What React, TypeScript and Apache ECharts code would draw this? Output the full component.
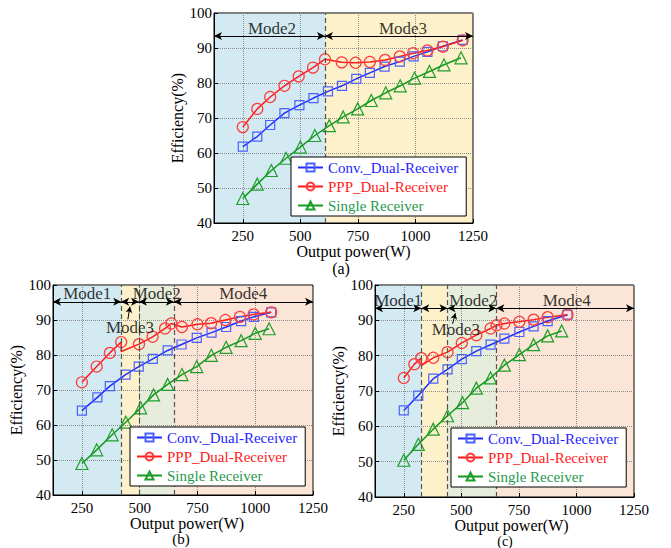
import React, { useEffect, useRef } from 'react';
import * as echarts from 'echarts';

const FONT = '"Liberation Serif", "Times New Roman", serif';

// ---------- shared ----------
const xTickValues = [250, 500, 750, 1000, 1250];
const seriesNames = ['Conv._Dual-Receiver', 'PPP_Dual-Receiver', 'Single Receiver'];
const xName = 'Output power(W)';
const yName = 'Efficiency(%)';
const panelLabels = ['(a)', '(b)', '(c)'];

// ---------- panel (a) ----------
const aConv = [[250, 61.8], [313, 64.7], [369, 68.0], [431, 71.4], [496, 73.7], [557, 75.7], [620, 77.6], [681, 79.2], [743, 81.2], [802, 82.9], [866, 84.7], [932, 86.1], [992, 87.6], [1052, 88.9], [1119, 90.5], [1205, 92.3]];
const aPpp = [[250, 67.4], [313, 72.6], [369, 76.0], [431, 79.2], [493, 81.9], [555, 84.4], [607, 86.8], [680, 85.9], [740, 85.8], [802, 86.0], [868, 86.6], [932, 87.6], [990, 88.5], [1052, 89.3], [1119, 90.4], [1205, 92.2]];
const aPppHidden: number[] = [];
const aSingle = [[250, 47.0], [313, 51.1], [374, 55.0], [438, 58.5], [500, 61.7], [563, 65.0], [626, 67.8], [686, 70.3], [749, 72.6], [808, 75.0], [871, 77.2], [934, 79.2], [996, 81.4], [1061, 83.3], [1124, 85.2], [1198, 87.2]];
const aBounds = [607];
const aModes = ['Mode2', 'Mode3'];
const aModeLabelPos = [[377, 95.7], [946, 95.7]];
const aArrowY = 93.4;

// ---------- panel (b) ----------
const bConv = [[250, 64.1], [317, 67.9], [371, 71.1], [439, 74.4], [496, 76.7], [557, 78.9], [621, 81.3], [681, 83.0], [747, 84.9], [811, 86.4], [874, 88.0], [939, 89.7], [994, 90.9], [1069, 92.2]];
const bPpp = [[250, 72.2], [314, 76.7], [371, 80.6], [420, 83.7], [420, 81.0], [497, 83.1], [556, 85.2], [610, 87.6], [637, 89.0], [683, 88.0], [750, 88.8], [809, 89.1], [871, 90.0], [934, 90.9], [993, 91.6], [1069, 92.2]];
const bPppHidden = [4];
const bSingle = [[250, 49.0], [314, 52.9], [381, 57.2], [440, 60.8], [504, 64.9], [560, 68.6], [621, 71.6], [683, 74.4], [747, 76.7], [810, 79.9], [874, 82.2], [939, 84.1], [1000, 86.2], [1060, 87.5]];
const bBounds = [420, 497, 648];
const bModes = ['Mode1', 'Mode2', 'Mode4'];
const bModeLabelPos = [[273, 97.6], [574, 97.6], [948, 97.6]];
const bArrowY = 95.2;
const bMode3Label = [458, 87.9];
const bPointer = [[449, 90.2], [458, 93.8]];

// ---------- panel (c) ----------
const cConv = [[250, 64.5], [313, 68.7], [378, 73.5], [440, 76.1], [502, 79.0], [565, 81.3], [627, 83.1], [687, 84.8], [752, 86.7], [814, 88.3], [875, 89.8], [961, 91.6]];
const cPpp = [[250, 73.7], [296, 77.6], [326, 79.3], [326, 77.2], [378, 79.4], [440, 81.0], [502, 83.6], [565, 85.8], [627, 87.7], [653, 88.6], [687, 89.1], [752, 89.6], [814, 90.2], [875, 90.9], [961, 91.6]];
const cPppHidden = [3];
const cSingle = [[250, 50.4], [313, 54.9], [378, 59.2], [440, 63.0], [505, 66.7], [565, 70.8], [627, 73.7], [687, 77.3], [752, 80.3], [814, 83.1], [875, 85.6], [936, 87.0]];
const cBounds = [326, 440, 652];
const cModes = ['Mode1', 'Mode2', 'Mode4'];
const cModeLabelPos = [[226, 95.5], [552, 95.5], [958, 95.5]];
const cArrowY = 93.4;
const cMode3Label = [476, 87.5];
const cPointer = [[462, 89.0], [474, 92.0]];

// band colours
const BLUE_BG = '#d3eaf2';
const YELLOW_BG = '#fdf1cb';
const GREEN_BG = '#e6edda';
const PEACH_BG = '#fbe5d6';

const X_MIN = 125;
const X_MAX = 1250;

const lineColors = ['#1f2dff', '#ff1a1a', '#139a1f'];
const markerColors = ['#4a62ff', '#ff3b3b', '#1e9e2a'];
const legendTextColors = ['#1f1fff', '#ff2020', '#1f9a4c'];
const symbols = ['rect', 'circle', 'triangle'];
const symbolSizes = [9, 11, 12];

function App() {
  const ref = useRef<HTMLDivElement>(null);

  useEffect(() => {
    if (!ref.current) return;
    const chart = echarts.init(ref.current, undefined, { renderer: 'svg' });

    const grids = [
      { left: 214, top: 13, width: 259, height: 210 },
      { left: 53, top: 285, width: 260, height: 210 },
      { left: 375, top: 285, width: 259, height: 212 },
    ];
    const yNameGaps = [17, 18, 18];
    const xNameGaps = [18, 17, 15];
    const xNameShift = [20, 8, 14];
    const labelPos = [[341, 268], [181, 539], [505, 541]];
    const labelSizes = [16, 15, 14];

    const panels = [
      { conv: aConv, ppp: aPpp, hidden: aPppHidden, single: aSingle, bounds: aBounds, bands: [BLUE_BG, YELLOW_BG], modes: aModes, modePos: aModeLabelPos, arrowY: aArrowY, m3: null as any, pointer: null as any },
      { conv: bConv, ppp: bPpp, hidden: bPppHidden, single: bSingle, bounds: bBounds, bands: [BLUE_BG, YELLOW_BG, GREEN_BG, PEACH_BG], modes: bModes, modePos: bModeLabelPos, arrowY: bArrowY, m3: bMode3Label, pointer: bPointer },
      { conv: cConv, ppp: cPpp, hidden: cPppHidden, single: cSingle, bounds: cBounds, bands: [BLUE_BG, YELLOW_BG, GREEN_BG, PEACH_BG], modes: cModes, modePos: cModeLabelPos, arrowY: cArrowY, m3: cMode3Label, pointer: cPointer },
    ];

    const xAxes = grids.map((_, i) => ({
      type: 'value',
      gridIndex: i,
      min: X_MIN,
      max: X_MAX,
      z: 2,
      name: xName,
      nameLocation: 'middle',
      nameGap: xNameGaps[i],
      nameTextStyle: { fontFamily: FONT, fontSize: 16, lineHeight: 16, color: '#000', padding: [0, 0, 0, xNameShift[i]] },
      axisLine: { show: true, lineStyle: { color: '#000', width: 1 } },
      axisTick: { show: true, inside: true, length: 4, customValues: xTickValues, lineStyle: { color: '#000' } },
      axisLabel: { customValues: xTickValues, color: '#000', fontFamily: FONT, fontSize: 15, margin: 5, formatter: (v: number) => String(v) },
      splitLine: { show: true, lineStyle: { color: '#8c8c8c', type: 'dotted', width: 1 } },
    }));

    const yAxes = grids.map((_, i) => ({
      type: 'value',
      gridIndex: i,
      min: 40,
      max: 100,
      interval: 10,
      z: 2,
      name: yName,
      nameLocation: 'middle',
      nameGap: yNameGaps[i],
      nameTextStyle: { fontFamily: FONT, fontSize: 16, lineHeight: 16, color: '#000' },
      axisLine: { show: true, lineStyle: { color: '#000', width: 1 } },
      axisTick: { show: true, inside: true, length: 4, lineStyle: { color: '#000' } },
      axisLabel: { color: '#000', fontFamily: FONT, fontSize: 15, margin: 2, formatter: (v: number) => String(v) },
      splitLine: { show: true, lineStyle: { color: '#8c8c8c', type: 'dotted', width: 1 } },
    }));

    const series: any[] = [];
    panels.forEach((p, i) => {
      const edges = [X_MIN, ...p.bounds, X_MAX];
      const bandData = p.bands.map((col, k) => [
        { xAxis: edges[k], itemStyle: { color: col } },
        { xAxis: edges[k + 1] },
      ]);
      const mlData: any[] = [];
      p.bounds.forEach((b) => {
        mlData.push([
          { coord: [b, 40], symbol: 'none', lineStyle: { color: '#555', type: [5, 3], width: 1.2 } },
          { coord: [b, 100], symbol: 'none' },
        ]);
      });
      for (let k = 0; k < edges.length - 1; k++) {
        mlData.push([
          { coord: [edges[k], p.arrowY], symbol: 'arrow', symbolSize: [6, 8], lineStyle: { color: '#000', type: 'solid', width: 1 } },
          { coord: [edges[k + 1], p.arrowY], symbol: 'arrow', symbolSize: [6, 8] },
        ]);
      }
      if (p.pointer) {
        mlData.push([
          { coord: p.pointer[0], symbol: 'none', lineStyle: { color: '#000', type: 'solid', width: 1 } },
          { coord: p.pointer[1], symbol: 'arrow', symbolSize: [5, 6] },
        ]);
      }

      const sets = [p.conv, p.ppp, p.single];
      sets.forEach((d, s) => {
        const data = d.map((pt, idx) =>
          s === 1 && p.hidden.includes(idx) ? { value: pt, symbol: 'none' } : { value: pt }
        );
        const ser: any = {
          type: 'line',
          name: seriesNames[s],
          xAxisIndex: i,
          yAxisIndex: i,
          data,
          z: 3,
          symbol: symbols[s],
          symbolSize: symbolSizes[s],
          showAllSymbol: true,
          smooth: false,
          lineStyle: { color: lineColors[s], width: 1.5 },
          itemStyle: { color: 'rgba(255,255,255,0)', borderColor: markerColors[s], borderWidth: 1.2 },
          emphasis: { disabled: true },
          silent: true,
        };
        if (s === 0) {
          ser.markArea = { silent: true, data: bandData };
          ser.markLine = { silent: true, symbol: ['none', 'none'], label: { show: false }, data: mlData, animation: false };
        }
        series.push(ser);
      });

      const textData = p.modes.map((m, k) => ({ name: m, value: p.modePos[k] }));
      if (p.m3) textData.push({ name: 'Mode3', value: p.m3 });
      series.push({
        type: 'scatter',
        name: 'modeText' + i,
        xAxisIndex: i,
        yAxisIndex: i,
        symbolSize: 0,
        z: 6,
        silent: true,
        data: textData,
        label: { show: true, position: 'inside', formatter: '{b}', color: '#000', fontFamily: FONT, fontSize: 17 },
      });
    });

    const legendItems = seriesNames.map((n, k) => ({ name: n, textStyle: { color: legendTextColors[k] } }));
    const legendPos = [
      { left: 291, top: 157 },
      { left: 130, top: 427 },
      { left: 451, top: 428 },
    ];
    const legends = legendPos.map((lp) => ({
      ...lp,
      orient: 'vertical',
      data: legendItems,
      backgroundColor: '#fff',
      borderColor: '#000',
      borderWidth: 1,
      padding: [3, 8, 3, 6],
      itemGap: 4,
      itemWidth: 25,
      itemHeight: 10,
      selectedMode: false,
      z: 10,
      textStyle: { fontFamily: FONT, fontSize: 15 },
    }));

    chart.setOption({
      animation: false,
      backgroundColor: '#fff',
      grid: grids.map((g) => ({ ...g, show: true, borderColor: '#000', borderWidth: 1, backgroundColor: 'transparent', z: 2 })),
      xAxis: xAxes,
      yAxis: yAxes,
      legend: legends,
      series,
      graphic: panelLabels.map((t, i) => ({
        type: 'text',
        x: labelPos[i][0],
        y: labelPos[i][1],
        style: { text: t, fontFamily: FONT, fontSize: labelSizes[i], lineHeight: labelSizes[i], fill: '#000', align: 'center', verticalAlign: 'middle' },
      })),
    });

    return () => chart.dispose();
  }, []);

  return (
    <div
      ref={ref}
      style={{ position: 'fixed', left: 0, top: 0, width: 671, height: 548, background: '#fff' }}
    />
  );
}

export default App;
